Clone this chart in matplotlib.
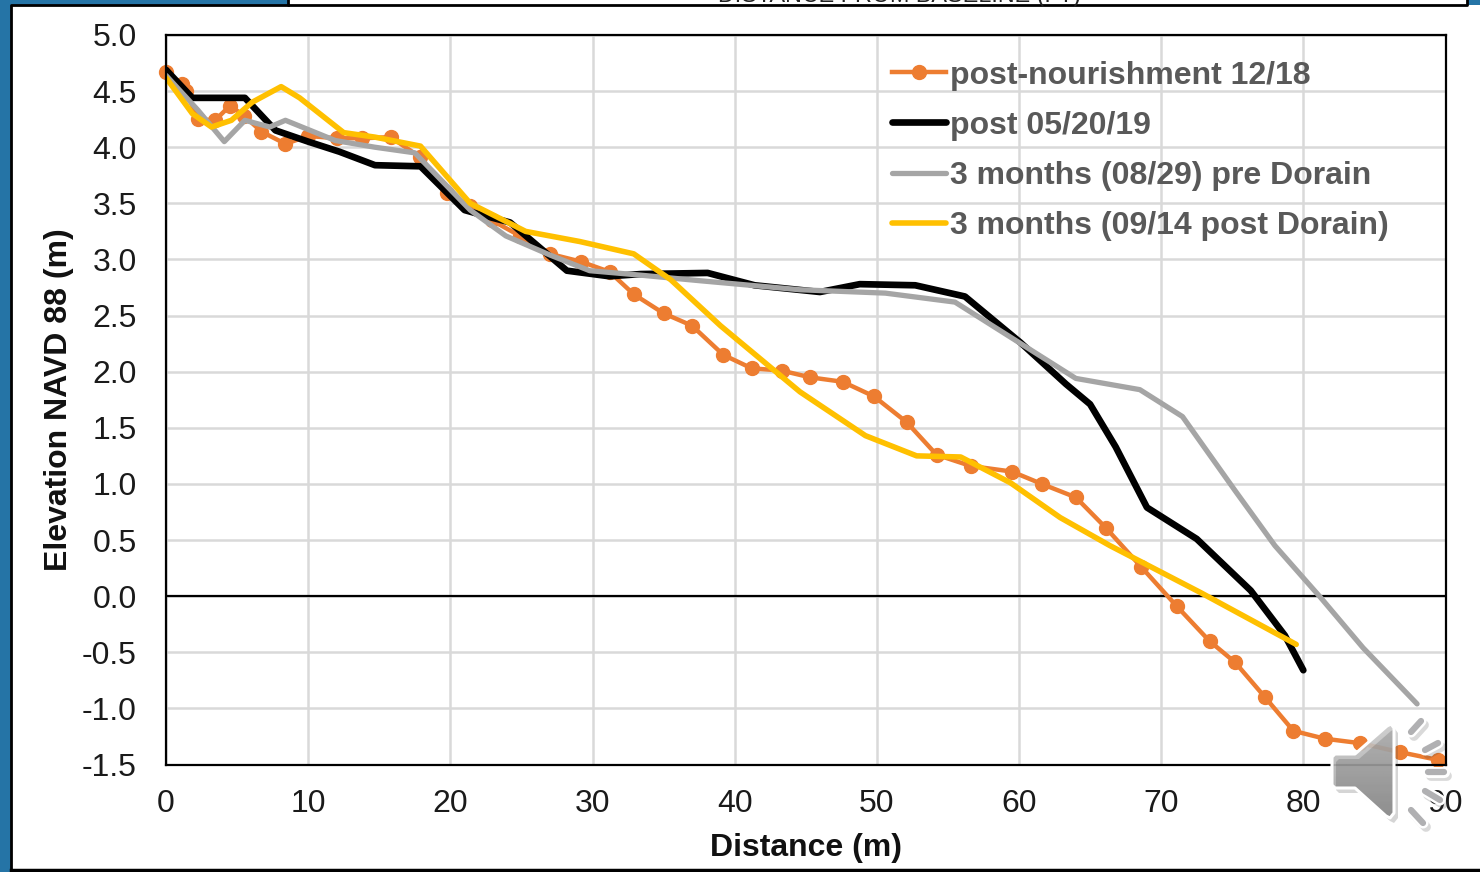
import matplotlib
matplotlib.use("Agg")
import matplotlib.pyplot as plt
import numpy as np
from matplotlib.patches import Rectangle, Polygon
from matplotlib.lines import Line2D

plt.rcParams['font.family'] = ['Liberation Sans', 'DejaVu Sans']

# values
nourish_x = [0, 1.1, 1.4, 2.25, 3.45, 4.5, 5.5, 6.7, 8.4, 10, 12, 13.8, 15.8, 17.9, 19.8, 21.4, 22.9, 24.9,
             27, 29.2, 31.2, 32.9, 35, 37, 39.2, 41.2, 43.3, 45.3, 47.6, 49.8, 52.1, 54.2, 56.6, 59.5,
             61.6, 64, 66.1, 68.6, 71.1, 73.4, 75.2, 77.3, 79.3, 81.5, 84, 86.8, 89.5]
nourish_y = [4.67, 4.56, 4.5, 4.25, 4.24, 4.37, 4.28, 4.14, 4.03, 4.1, 4.08, 4.08, 4.09, 3.91, 3.59, 3.48, 3.35, 3.21,
             3.05, 2.98, 2.89, 2.69, 2.52, 2.41, 2.15, 2.03, 2.01, 1.95, 1.91, 1.78, 1.55, 1.26, 1.16, 1.11,
             1.0, 0.88, 0.61, 0.26, -0.09, -0.4, -0.59, -0.9, -1.2, -1.27, -1.31, -1.39, -1.46]

may_x = [0, 1.85, 5.55, 7.7, 10, 12.2, 14.7, 17.9, 21, 22.4, 24.2, 28.2, 31.2, 33.4, 38.1, 41.4, 46, 48.8,
         52.7, 56.2, 60.1, 63.3, 65, 66.8, 69, 72.5, 76.3, 78.7, 80]
may_y = [4.69, 4.44, 4.44, 4.15, 4.05, 3.96, 3.84, 3.83, 3.44, 3.39, 3.33, 2.9, 2.85, 2.87, 2.88, 2.77, 2.71, 2.78,
         2.77, 2.67, 2.26, 1.89, 1.71, 1.33, 0.79, 0.51, 0.05, -0.35, -0.66]

aug_x = [0, 2.25, 4.1, 5.55, 7.3, 8.4, 11.9, 14.7, 17.5, 21.4, 23.9, 27, 29.8, 33.4, 37.6, 44.6, 50.6, 55.5,
         60, 64, 68.5, 71.5, 75.2, 78, 81.2, 84.2, 88]
aug_y = [4.64, 4.33, 4.05, 4.24, 4.18, 4.24, 4.06, 4.0, 3.95, 3.44, 3.21, 3.04, 2.9, 2.86, 2.81, 2.73, 2.7, 2.62,
         2.26, 1.94, 1.84, 1.6, 0.94, 0.45, -0.01, -0.46, -0.96]

sep_x = [0, 1.85, 3.2, 4.6, 6.05, 8.1, 9.4, 12.5, 14.7, 17.9, 21.4, 25.3, 29.1, 32.9, 35.5, 39, 44.6, 49.2,
         52.8, 55.9, 59.4, 62.9, 66.4, 72.8, 79.5]
sep_y = [4.62, 4.3, 4.18, 4.24, 4.4, 4.54, 4.44, 4.13, 4.09, 4.01, 3.5, 3.25, 3.16, 3.05, 2.82, 2.41, 1.82, 1.43,
         1.25, 1.24, 1.01, 0.7, 0.45, 0.03, -0.43]

x_ticks = list(range(0, 100, 10))
y_ticks = [-1.5, -1.0, -0.5, 0.0, 0.5, 1.0, 1.5, 2.0, 2.5, 3.0, 3.5, 4.0, 4.5, 5.0]

W, H = 1480, 872
fig = plt.figure(figsize=(W / 100, H / 100), dpi=100)

# slide background behind the chart, in pixel coordinates
bg = fig.add_axes([0, 0, 1, 1])
bg.set_xlim(0, W)
bg.set_ylim(H, 0)
bg.axis('off')
blue = '#2574A6'
bg.add_patch(Rectangle((0, 0), 11, H, fc=blue, ec='none'))
bg.add_patch(Rectangle((0, 0), 288, 5, fc=blue, ec='none'))
bg.add_patch(Rectangle((1467, 0), 13, 5, fc=blue, ec='none'))
bg.plot([11, 11, 288], [H, 5.5, 5.5], color='black', lw=2)
bg.plot([288, 288, 1467, 1467], [0, 5, 5, 0], color='black', lw=2)
bg.plot([11, W], [869.5, 869.5], color='black', lw=2.5)
bg.text(899, 2, 'DISTANCE FROM BASELINE (FT)', fontsize=16.8, ha='center', va='baseline', color='#222222')

ax = fig.add_axes([166 / W, 1 - 764.5 / H, (1445.5 - 166) / W, (764.5 - 35) / H])
ax.set_xlim(0, 90)
ax.set_ylim(-1.5, 5.0)
ax.set_xticks(x_ticks)
ax.set_yticks(y_ticks)
ax.set_yticklabels([f'{v:.1f}' for v in y_ticks])
ax.grid(True, color='#D9D9D9', lw=1.8)
ax.set_axisbelow(True)
ax.tick_params(axis='x', length=0, labelsize=23, pad=18, labelcolor='#1a1a1a')
ax.tick_params(axis='y', length=0, labelsize=23, pad=21, labelcolor='#1a1a1a')
for s in ax.spines.values():
    s.set_linewidth(1.6)
    s.set_color('black')
ax.axhline(0, color='black', lw=1.6, zorder=1.5)

ax.plot(nourish_x, nourish_y, color='#ED7D31', lw=3.2, marker='o', ms=10, clip_on=False,
        label='post-nourishment 12/18')
ax.plot(may_x, may_y, color='black', lw=4.8, solid_capstyle='round', label='post 05/20/19')
ax.plot(aug_x, aug_y, color='#A5A5A5', lw=3.8, solid_capstyle='round', label='3 months (08/29) pre Dorain')
ax.plot(sep_x, sep_y, color='#FFC000', lw=4, solid_capstyle='round', label='3 months (09/14 post Dorain)')

ax.set_xlabel('Distance (m)', fontsize=23, fontweight='bold', labelpad=10, color='#111111')
ax.set_ylabel('Elevation NAVD 88 (m)', fontsize=23, fontweight='bold', labelpad=6, color='#111111')

leg = ax.legend(loc='upper left', bbox_to_anchor=(0.5675, 0.965), frameon=False, fontsize=23,
                handlelength=1.7, handletextpad=0.1, labelspacing=0.63, borderaxespad=0, borderpad=0)
for t in leg.get_texts():
    t.set_color('#595959')
    t.set_fontweight('bold')

# speaker icon on top of everything
ic = fig.add_axes([0, 0, 1, 1], zorder=10)
ic.set_xlim(0, W)
ic.set_ylim(H, 0)
ic.axis('off')
ic.patch.set_alpha(0)
cone = [(1332, 757), (1335, 754), (1355, 754), (1387, 726), (1391, 724), (1394, 728),
        (1394, 813), (1390, 818), (1386, 816), (1355, 788), (1335, 788), (1332, 785)]
ic.add_patch(Polygon([(a + 4, b + 5) for a, b in cone], fc='#444444', ec='none', alpha=0.22))
# light at the top, darker at the bottom
grad = np.linspace(0.80, 0.60, 64).reshape(-1, 1)
im = ic.imshow(grad, extent=(1330, 1396, 820, 722), cmap='gray', vmin=0, vmax=1, alpha=0.9, aspect='auto')
edge = Polygon(cone, fc='none', ec='white', lw=2.2, joinstyle='round')
ic.add_patch(edge)
im.set_clip_path(edge)
ic.set_xlim(0, W)
ic.set_ylim(H, 0)
for (x1, y1, x2, y2) in [(1411, 732, 1421, 721), (1425, 750, 1438, 743), (1428, 772, 1444, 772),
                         (1425, 791, 1440, 800), (1411, 810, 1423, 823)]:
    ic.add_line(Line2D([x1 + 3, x2 + 3], [y1 + 4, y2 + 4], color='#444444', alpha=0.2, lw=7, solid_capstyle='round'))
    ic.add_line(Line2D([x1, x2], [y1, y2], color='white', lw=8, solid_capstyle='round'))
    ic.add_line(Line2D([x1, x2], [y1, y2], color='#B0B0B2', lw=4.5, solid_capstyle='round'))

fig.savefig('out.png', dpi=100)
